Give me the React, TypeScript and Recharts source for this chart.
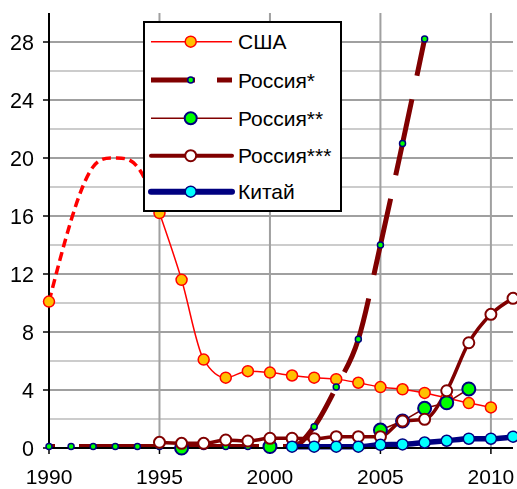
import React from 'react';
import { LineChart, Line, XAxis, YAxis, CartesianGrid, Legend } from 'recharts';

const years = [1990, 1991, 1992, 1993, 1994, 1995, 1996, 1997, 1998, 1999, 2000, 2001, 2002, 2003, 2004, 2005, 2006, 2007, 2008, 2009, 2010, 2011];
const usaEstimate = [10.1, 15.7, 19.4, 20.0, 19.4, 16.2, null, null, null, null, null, null, null, null, null, null, null, null, null, null, null, null];
const usa = [10.1, null, null, null, null, 16.2, 11.6, 6.1, 4.85, 5.3, 5.2, 5.0, 4.85, 4.75, 4.5, 4.2, 4.05, 3.8, 3.45, 3.1, 2.8, null];
const russia1 = [0.1, 0.1, 0.1, 0.1, 0.1, 0.1, 0.1, 0.1, 0.1, 0.1, 0.1, 0.1, 1.47, 4.2, 7.5, 14.0, 21.0, 28.2, null, null, null, null];
const russia2 = [null, null, null, null, null, null, 0, null, null, null, 0.1, null, null, null, null, 1.24, 1.86, 2.74, 3.12, 4.07, null, null];
const russia3 = [null, null, null, null, null, 0.39, 0.32, 0.32, 0.55, 0.48, 0.67, 0.67, 0.64, 0.78, 0.78, 0.78, 1.86, 1.98, 3.95, 7.26, 9.22, 10.32];
const china = [null, null, null, null, null, null, null, null, null, null, null, 0.09, 0.09, 0.09, 0.09, 0.22, 0.25, 0.38, 0.5, 0.64, 0.64, 0.78];

const seriesNames = ['США', 'Россия*', 'Россия**', 'Россия***', 'Китай'];
const xTicks = [1990, 1995, 2000, 2005, 2010];
const yTicks = [0, 4, 8, 12, 16, 20, 24, 28];
const majorGrid = [4, 8, 12, 16, 20, 24, 28];
const minorGrid = [2, 6, 10, 14, 18, 22, 26];
const verticalGrid = [1995, 2000, 2005, 2010];

const data = years.map((year, i) => ({
  year,
  usaEst: usaEstimate[i],
  usa: usa[i],
  russia1: russia1[i],
  russia2: russia2[i],
  russia3: russia3[i],
  china: china[i],
}));

const FONT = '"Liberation Sans", Arial, sans-serif';
const DARKRED = '#800000';
const NAVY = '#000080';

const rowsY = [20.7, 59, 97.3, 134.7, 170.7];

const renderLegend = () => (
  <svg width={199} height={191} style={{ display: 'block' }}>
    <rect x={1} y={1} width={197} height={189} fill="#ffffff" stroke="#000000" strokeWidth={2} />
    <line x1={8} x2={89} y1={rowsY[0]} y2={rowsY[0]} stroke="#FF0000" strokeWidth={1.5} />
    <circle cx={47.7} cy={rowsY[0]} r={5.5} fill="#FFC000" stroke="#FF0000" strokeWidth={1.5} />
    <line x1={8} x2={89} y1={rowsY[1]} y2={rowsY[1]} stroke={DARKRED} strokeWidth={5} strokeDasharray="44 22" />
    <circle cx={47.7} cy={rowsY[1]} r={3} fill="#00FF00" stroke={NAVY} strokeWidth={1.5} />
    <line x1={8} x2={89} y1={rowsY[2]} y2={rowsY[2]} stroke={DARKRED} strokeWidth={1.5} />
    <circle cx={47.7} cy={rowsY[2]} r={6} fill="#00FF00" stroke={NAVY} strokeWidth={2} />
    <line x1={8} x2={89} y1={rowsY[3]} y2={rowsY[3]} stroke={DARKRED} strokeWidth={4} strokeLinecap="round" />
    <circle cx={47.7} cy={rowsY[3]} r={5.5} fill="#ffffff" stroke={DARKRED} strokeWidth={2} />
    <line x1={8} x2={89} y1={rowsY[4]} y2={rowsY[4]} stroke={NAVY} strokeWidth={6} strokeLinecap="round" />
    <circle cx={47.7} cy={rowsY[4]} r={5.5} fill="#00FFFF" stroke={NAVY} strokeWidth={1.5} />
    {seriesNames.map((name, i) => (
      <text key={name} x={95} y={rowsY[i] + 7.5} fontSize={21} fontFamily={FONT} fill="#000000">
        {name}
      </text>
    ))}
  </svg>
);

export default function App() {
  return (
    <div style={{ width: 509, height: 481, position: 'fixed', left: 8, top: 8 }}>
      <LineChart
        width={509}
        height={481}
        data={data}
        margin={{ top: 5, right: 4, left: 0, bottom: 0 }}
        style={{ fontFamily: FONT }}
      >
        <CartesianGrid horizontalValues={minorGrid} vertical={false} stroke="#cccccc" strokeWidth={2} />
        <CartesianGrid horizontalValues={majorGrid} verticalValues={verticalGrid} stroke="#a0a0a0" strokeWidth={2} />
        <XAxis
          dataKey="year"
          type="number"
          domain={[1990, 2011]}
          ticks={xTicks}
          height={41}
          tickSize={6}
          tickMargin={15}
          axisLine={{ stroke: '#000', strokeWidth: 2 }}
          tickLine={{ stroke: '#000', strokeWidth: 1.5 }}
          tick={{ fill: '#000', fontSize: 21, fontFamily: FONT }}
          interval={0}
        />
        <YAxis
          type="number"
          domain={[0, 30]}
          ticks={yTicks}
          width={41}
          tickSize={6}
          tickMargin={9}
          axisLine={{ stroke: '#000', strokeWidth: 2 }}
          tickLine={{ stroke: '#000', strokeWidth: 1.5 }}
          tick={{ fill: '#000', fontSize: 21.5, fontFamily: FONT }}
          interval={0}
        />
        <Legend
          layout="vertical"
          align="center"
          verticalAlign="middle"
          content={renderLegend}
          wrapperStyle={{ position: 'absolute', left: 135, top: 13, width: 199, height: 191, bottom: 'auto', right: 'auto' }}
        />
        <Line
          dataKey="usaEst"
          type="natural"
          stroke="#FF0000"
          strokeWidth={3.5}
          strokeDasharray="9 5"
          dot={false}
          activeDot={false}
          legendType="none"
          isAnimationActive={false}
        />
        <Line
          dataKey="usa"
          name={seriesNames[0]}
          type="monotone"
          stroke="#FF0000"
          strokeWidth={1.5}
          dot={{ r: 5.5, fill: '#FFC000', stroke: '#FF0000', strokeWidth: 1.5 }}
          activeDot={false}
          isAnimationActive={false}
        />
        <Line
          dataKey="russia1"
          name={seriesNames[1]}
          type="monotone"
          stroke={DARKRED}
          strokeWidth={5}
          strokeDasharray="78 24"
          strokeDashoffset={72}
          dot={{ r: 3, fill: '#00FF00', stroke: NAVY, strokeWidth: 1.5, strokeDasharray: 'none', strokeDashoffset: 0 }}
          activeDot={false}
          isAnimationActive={false}
        />
        <Line
          dataKey="russia2"
          name={seriesNames[2]}
          type="linear"
          stroke={DARKRED}
          strokeWidth={1.5}
          dot={{ r: 6.5, fill: '#00FF00', stroke: NAVY, strokeWidth: 2 }}
          activeDot={false}
          isAnimationActive={false}
        />
        <Line
          dataKey="russia3"
          name={seriesNames[3]}
          type="monotone"
          stroke={DARKRED}
          strokeWidth={3.5}
          dot={{ r: 5.5, fill: '#ffffff', stroke: DARKRED, strokeWidth: 2 }}
          activeDot={false}
          isAnimationActive={false}
        />
        <Line
          dataKey="china"
          name={seriesNames[4]}
          type="monotone"
          stroke={NAVY}
          strokeWidth={5.5}
          dot={{ r: 5.5, fill: '#00FFFF', stroke: NAVY, strokeWidth: 1.5 }}
          activeDot={false}
          isAnimationActive={false}
        />
      </LineChart>
    </div>
  );
}
